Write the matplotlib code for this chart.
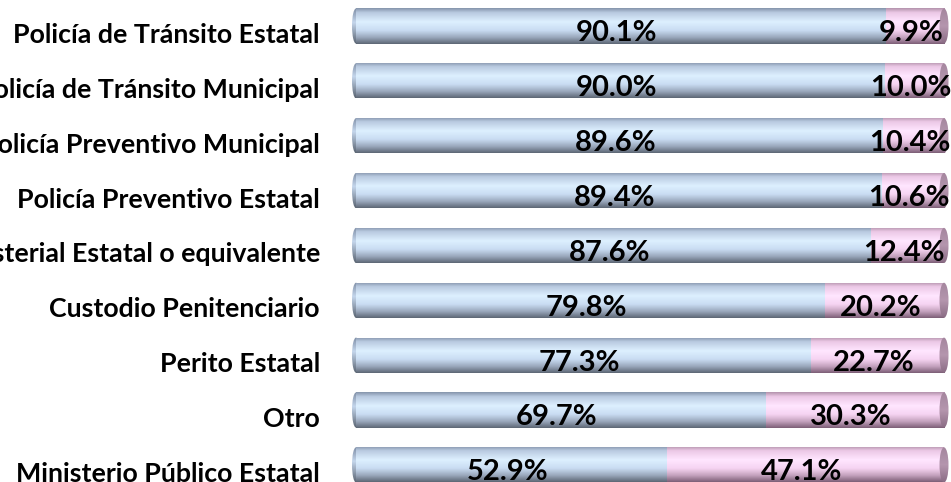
import numpy as np
import matplotlib
matplotlib.use("Agg")
import matplotlib.pyplot as plt
from matplotlib.colors import LinearSegmentedColormap
from matplotlib.patches import Ellipse

# data
categories = [
    "Policía de Tránsito Estatal",
    "Policía de Tránsito Municipal",
    "Policía Preventivo Municipal",
    "Policía Preventivo Estatal",
    "Policía Ministerial Estatal o equivalente",
    "Custodio Penitenciario",
    "Perito Estatal",
    "Otro",
    "Ministerio Público Estatal",
]
share_first = [90.1, 90.0, 89.6, 89.4, 87.6, 79.8, 77.3, 69.7, 52.9]
share_second = [9.9, 10.0, 10.4, 10.6, 12.4, 20.2, 22.7, 30.3, 47.1]

plt.rcParams["font.family"] = ["Lato", "DejaVu Sans"]

# vertical shading of the cylinder-like bars (top -> bottom)
blue = LinearSegmentedColormap.from_list("blue", [
    (0.0, "#8796ad"), (0.12, "#b9cae0"), (0.38, "#ddf0ff"),
    (0.62, "#c9dcf2"), (0.82, "#9aa8bc"), (1.0, "#5e6876")])
pink = LinearSegmentedColormap.from_list("pink", [
    (0.0, "#b595ae"), (0.12, "#ecc8e6"), (0.38, "#ffe6ff"),
    (0.62, "#f6d4f2"), (0.82, "#c4a2be"), (1.0, "#7e6078")])
cap = LinearSegmentedColormap.from_list("cap", [
    (0.0, "#a4869e"), (0.5, "#b596ae"), (1.0, "#8a6c84")])
lend = LinearSegmentedColormap.from_list("lend", [
    (0.0, "#7f8ea6"), (0.4, "#c4d6ec"), (1.0, "#5a6472")])
grad = np.linspace(0, 1, 64).reshape(-1, 1)

fig = plt.figure(figsize=(9.51, 4.82), dpi=100)
# x=0 at pixel 356, x=100 at pixel 944; one category every ~54.9 px
px = 100 / 588  # data units per pixel along x
ax = fig.add_axes([0, 0, 1, 1])
ax.set_xlim(-356 * px, (951 - 356) * px)
ax.set_ylim(8.312, -0.474)
ax.axis("off")

ypos = np.arange(len(categories))
h = 0.64


def shade(patch, cmap, x0, x1, y, z=2):
    im = ax.imshow(grad, cmap=cmap, aspect="auto",
                   extent=[x0, x1, y + h / 2, y - h / 2], zorder=z)
    im.set_clip_path(patch)


first = ax.barh(ypos, share_first, height=h, color="none", lw=0, zorder=1)
second = ax.barh(ypos, share_second, left=share_first, height=h,
                 color="none", lw=0, zorder=1)

for i, y in enumerate(ypos):
    a, b = share_first[i], share_second[i]
    # rounded left end
    lcap = Ellipse((0, y), 8 * px, h, fc="none", lw=0)
    ax.add_patch(lcap)
    shade(lcap, lend, -5 * px, 0.5, y)

    shade(first[i], blue, 0, a, y)
    shade(second[i], pink, a, a + b, y)

    # visible end face on the right
    rcap = Ellipse((a + b, y), 9 * px, h, fc="none", lw=0)
    ax.add_patch(rcap)
    shade(rcap, cap, a + b - 5 * px, a + b + 5 * px, y, z=3)

    ax.text(a / 2 - 4 * px, y + 0.28, f"{a:.1f}%", ha="center",
            va="baseline", fontsize=21, fontweight="bold", color="black",
            zorder=5)
    ax.text(a + b / 2 - 4 * px, y + 0.28, f"{b:.1f}%", ha="center",
            va="baseline", fontsize=21, fontweight="bold", color="black",
            zorder=5)
    ax.text(-36 * px, y + 0.31, categories[i], ha="right", va="baseline",
            fontsize=19.3, fontweight="bold", color="black")

fig.savefig("out.png", dpi=100)
